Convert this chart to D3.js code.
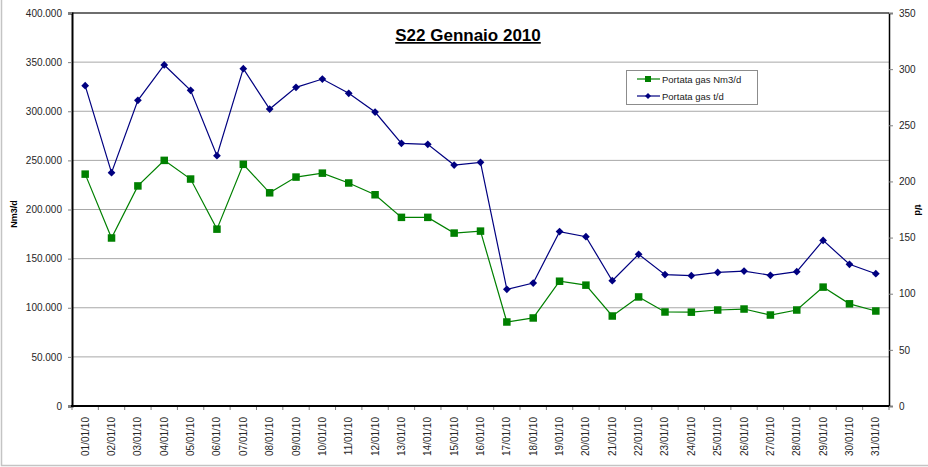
<!DOCTYPE html>
<html>
    <head>
        <meta charset="utf-8">
        <script src="https://d3js.org/d3.v7.min.js"></script>
        <style>
            body {
                margin: 0;
                background: white;
            }
            text {
                font-family: "Liberation Sans", Arial, sans-serif;
            }
        </style>
    </head>
    <body>
    <script>

        const width = 928;
        const height = 467;
        const margin = {
            top: 13,
            bottom: 61,
            left: 72,
            right: 39
        };

        var dates = ['01/01/10','02/01/10','03/01/10','04/01/10','05/01/10','06/01/10','07/01/10','08/01/10',
            '09/01/10','10/01/10','11/01/10','12/01/10','13/01/10','14/01/10','15/01/10','16/01/10',
            '17/01/10','18/01/10','19/01/10','20/01/10','21/01/10','22/01/10','23/01/10','24/01/10',
            '25/01/10','26/01/10','27/01/10','28/01/10','29/01/10','30/01/10','31/01/10'];

        // Portata gas Nm3/d (left axis)
        var nm3 = [236000,171000,224000,250000,231000,180000,246000,217000,233000,237000,227000,215000,
            192000,192000,176000,178000,85500,89600,127000,123000,91600,111000,95700,95500,
            97700,98700,92600,97700,121000,104000,96700];

        // Portata gas t/d (right axis)
        var tpd = [285.3,207.8,272.2,303.7,281.1,222.9,300.4,264.5,283.8,291.2,278.5,261.8,
            233.9,233.0,214.6,217.0,103.9,109.5,155.3,150.8,111.6,135.1,117.0,116.1,
            119.0,120.2,116.4,119.6,147.5,126.2,117.8];

        var leftTicks = [0,50000,100000,150000,200000,250000,300000,350000,400000];
        var rightTicks = [0,50,100,150,200,250,300,350];
        var legendItems = ['Portata gas Nm3/d', 'Portata gas t/d'];

        const x0 = margin.left, x1 = width - margin.right;
        const y0 = height - margin.bottom, y1 = margin.top;

        var itLocale = d3.formatLocale({decimal: ',', thousands: '.', grouping: [3], currency: ['', '']});
        var fmt = itLocale.format(',d');

        var xScale = d3.scaleBand().domain(dates).range([x0, x1]).padding(0);
        var yLeft = d3.scaleLinear().domain([0, 400000]).range([y0, y1]);
        var yRight = d3.scaleLinear().domain([0, 350]).range([y0, y1]);

        var svg = d3.select('body')
            .append('svg')
            .attr('width', width)
            .attr('height', height);

        // outer chart border
        svg.append('rect')
            .attr('x', 1.5).attr('y', -10)
            .attr('width', width + 20).attr('height', 475.5)
            .style('fill', 'none')
            .style('stroke', '#c4c4c4')
            .style('stroke-width', 1.5);

        // gridlines
        svg.append('g')
            .selectAll('line')
            .data(leftTicks.filter(d => d > 0 && d < 400000))
            .enter()
            .append('line')
            .attr('x1', x0).attr('x2', x1)
            .attr('y1', d => yLeft(d)).attr('y2', d => yLeft(d))
            .style('stroke', '#a8a8a8')
            .style('stroke-width', 1);

        // top border of plot
        svg.append('line')
            .attr('x1', x0).attr('x2', x1)
            .attr('y1', yLeft(400000)).attr('y2', yLeft(400000))
            .style('stroke', '#6e6e6e')
            .style('stroke-width', 2);

        // left axis
        var gl = svg.append('g')
            .attr('transform', 'translate(' + x0 + ',0)')
            .call(d3.axisLeft(yLeft).tickValues(leftTicks).tickFormat(fmt).tickSize(4).tickPadding(6));
        gl.select('.domain').style('stroke', 'black').style('stroke-width', 2);

        // right axis
        var gr = svg.append('g')
            .attr('transform', 'translate(' + x1 + ',0)')
            .call(d3.axisRight(yRight).tickValues(rightTicks).tickSize(4).tickPadding(6));
        gr.select('.domain').style('stroke', 'black').style('stroke-width', 1.5);

        // x axis
        var gx = svg.append('g')
            .attr('transform', 'translate(0,' + y0 + ')')
            .call(d3.axisBottom(xScale).tickSize(0).tickPadding(0));
        gx.select('.domain').remove();
        gx.selectAll('.tick text')
            .attr('transform', 'rotate(-90)')
            .attr('x', -11)
            .attr('y', 0)
            .attr('dy', '0.35em')
            .style('text-anchor', 'end');
        // ticks between categories
        svg.append('g')
            .selectAll('line')
            .data(dates.concat(['end']))
            .enter()
            .append('line')
            .attr('x1', (d, i) => x0 + i * xScale.step())
            .attr('x2', (d, i) => x0 + i * xScale.step())
            .attr('y1', y0).attr('y2', y0 + 4)
            .style('stroke', '#808080');
        svg.append('line')
            .attr('x1', x0 - 1).attr('x2', x1)
            .attr('y1', y0).attr('y2', y0)
            .style('stroke', 'black')
            .style('stroke-width', 2);

        svg.selectAll('.tick text')
            .style('font-size', '10px')
            .style('fill', '#262626')
            .style('font-family', '"Liberation Sans", Arial, sans-serif');
        svg.selectAll('.tick line').style('stroke', '#808080');

        var cx = d => xScale(d) + xScale.bandwidth() / 2;

        // green series
        var lineG = d3.line().x((d, i) => cx(dates[i])).y(d => yLeft(d));
        svg.append('path')
            .datum(nm3)
            .attr('d', lineG)
            .style('fill', 'none')
            .style('stroke', '#008000')
            .style('stroke-width', 1.2);
        svg.append('g')
            .selectAll('rect')
            .data(nm3)
            .enter()
            .append('rect')
            .attr('x', (d, i) => cx(dates[i]) - 3.75)
            .attr('y', d => yLeft(d) - 3.75)
            .attr('width', 7.5).attr('height', 7.5)
            .style('fill', '#008000');

        // blue series
        var lineB = d3.line().x((d, i) => cx(dates[i])).y(d => yRight(d));
        svg.append('path')
            .datum(tpd)
            .attr('d', lineB)
            .style('fill', 'none')
            .style('stroke', '#000080')
            .style('stroke-width', 1.2);
        var diamond = d3.symbol().type(d3.symbolSquare).size(30);
        svg.append('g')
            .selectAll('path')
            .data(tpd)
            .enter()
            .append('path')
            .attr('d', diamond)
            .attr('transform', (d, i) => 'translate(' + cx(dates[i]) + ',' + yRight(d) + ') rotate(45)')
            .style('fill', '#000080');

        // title
        svg.append('text')
            .attr('x', 468).attr('y', 41)
            .attr('text-anchor', 'middle')
            .style('font-size', '17px')
            .style('font-weight', 'bold')
            .style('text-decoration', 'underline')
            .text('S22 Gennaio 2010');

        // axis titles
        svg.append('text')
            .attr('transform', 'translate(17,214) rotate(-90)')
            .attr('text-anchor', 'middle')
            .style('font-size', '9px')
            .style('font-weight', 'bold')
            .text('Nm3/d');
        svg.append('text')
            .attr('transform', 'translate(915,210) rotate(90)')
            .attr('text-anchor', 'middle')
            .style('font-size', '9px')
            .style('font-weight', 'bold')
            .text('t/d');

        // legend
        var lg = svg.append('g');
        lg.append('rect')
            .attr('x', 626.5).attr('y', 70.5)
            .attr('width', 131).attr('height', 34)
            .style('fill', 'white')
            .style('stroke', '#8c8c8c');
        var colors = ['#008000', '#000080'];
        legendItems.forEach(function(name, i) {
            var ly = 79 + i * 17;
            lg.append('line')
                .attr('x1', 637).attr('x2', 660)
                .attr('y1', ly).attr('y2', ly)
                .style('stroke', colors[i]).style('stroke-width', 1.2);
            if (i == 0) {
                lg.append('rect')
                    .attr('x', 645).attr('y', ly - 3)
                    .attr('width', 6).attr('height', 6)
                    .style('fill', colors[i]);
            } else {
                lg.append('path')
                    .attr('d', d3.symbol().type(d3.symbolSquare).size(18))
                    .attr('transform', 'translate(648,' + ly + ') rotate(45)')
                    .style('fill', colors[i]);
            }
            lg.append('text')
                .attr('x', 662).attr('y', ly + 3.5)
                .style('font-size', '9.5px')
                .style('fill', '#1a1a1a')
                .text(name);
        });

    </script>
    </body>
</html>
